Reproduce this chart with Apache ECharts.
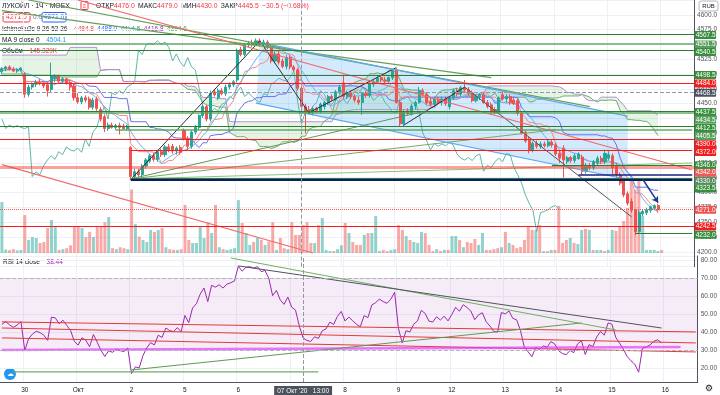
<!DOCTYPE html>
<html>
<head>
<meta charset="utf-8">
<script src="https://cdn.jsdelivr.net/npm/echarts@6/dist/echarts.min.js"></script>
<style>
html,body{margin:0;padding:0;background:#ffffff;}
#chart{width:720px;height:395px;}
</style>
</head>
<body>
<div id="chart"></div>
<script>
// ---------------- values ----------------
const dayNames = ["29 Сен '20","30 Сен '20","01 Окт '20","02 Окт '20","05 Окт '20","06 Окт '20","07 Окт '20","08 Окт '20","09 Окт '20","12 Окт '20","13 Окт '20","14 Окт '20","15 Окт '20","16 Окт '20"];
const dayTickLabels = ['29','30','Окт','2','5','6','7','8','9','12','13','14','15','16'];
const sessionHours = ['10:00','11:00','12:00','13:00','14:00','15:00','16:00','17:00','18:00','19:00','20:00','21:00','22:00','23:00'];
const firstVisibleHour = 8;   // first day is visible from 18:00
const futureSlots = 9;        // empty slots on the last day

const opens = [
 4504,4509,4512,4508,4505,4507,
 4500,4466,4478,4483,4486,4484,4482,4474,4492,4496,4488,4492,4486,4480,
 4460,4453,4460,4458,4444,4458,4440,4428,4408,4414,4410,4413,4412,4408,
 4376,4327,4335,4330,4345,4353,4362,4356,4369,4364,4377,4378,4370,4376,
 4405,4392,4378,4402,4410,4430,4445,4424,4470,4460,4472,4467,4478,4482,
 4490,4541,4533,4549,4552,4550,4556,4550,4554,4545,4522,4534,4522,4513,
 4528,4512,4507,4476,4445,4440,4435,4442,4438,4445,4452,4462,4458,4470,
 4485,4462,4468,4462,4456,4452,4467,4464,4483,4487,4494,4490,4488,4494,
 4507,4452,4416,4438,4433,4446,4452,4472,4466,4454,4449,4458,4452,4458,
 4445,4460,4472,4466,4477,4473,4468,4455,4462,4465,4452,4448,4440,4435,
 4465,4458,4462,4456,4455,4434,4402,4390,4372,4383,4378,4382,4379,4385,
 4380,4366,4375,4352,4359,4354,4358,4360,4336,4346,4342,4350,4358,4352,
 4358,4362,4345,4330,4320,4298,4285,4270,4234,4264,4266,4270,4274,4278
];
const highs = [
 4512,4514,4515,4512,4510,4512,
 4503,4482,4486,4490,4492,4488,4486,4519,4500,4499,4495,4494,4490,4484,
 4468,4463,4464,4462,4460,4462,4444,4432,4418,4418,4416,4418,4416,4414,
 4378,4340,4340,4348,4358,4365,4367,4372,4374,4380,4382,4382,4378,4380,
 4408,4395,4405,4414,4432,4448,4448,4472,4474,4476,4476,4482,4486,4490,
 4543,4546,4552,4556,4558,4560,4560,4558,4557,4550,4538,4538,4526,4532,
 4532,4515,4510,4479,4450,4446,4445,4445,4452,4455,4465,4466,4473,4482,
 4499,4472,4472,4466,4462,4470,4472,4486,4490,4496,4498,4495,4496,4509,
 4510,4455,4440,4442,4450,4455,4478,4476,4470,4460,4462,4462,4462,4462,
 4462,4475,4476,4480,4490,4478,4472,4466,4468,4468,4456,4452,4444,4462,
 4470,4466,4466,4460,4458,4436,4405,4394,4386,4388,4386,4386,4390,4390,
 4384,4372,4380,4362,4362,4366,4368,4364,4350,4350,4355,4362,4362,4372,
 4370,4366,4350,4334,4324,4302,4290,4272,4270,4272,4274,4278,4280,4281
];
const lows = [
 4500,4505,4506,4503,4502,4504,
 4460,4462,4474,4478,4481,4476,4462,4470,4486,4485,4484,4482,4472,4455,
 4450,4449,4452,4440,4440,4438,4420,4402,4404,4408,4406,4398,4406,4405,
 4321,4320,4326,4326,4340,4350,4352,4352,4360,4360,4368,4366,4364,4364,
 4388,4372,4374,4398,4406,4426,4420,4420,4462,4456,4464,4463,4474,4478,
 4486,4530,4530,4545,4546,4548,4546,4547,4542,4518,4518,4516,4510,4508,
 4508,4504,4472,4430,4400,4432,4430,4434,4434,4440,4448,4454,4455,4466,
 4458,4458,4458,4452,4448,4431,4460,4460,4478,4484,4486,4484,4484,4490,
 4450,4412,4412,4430,4430,4440,4450,4462,4448,4446,4445,4448,4447,4446,
 4440,4456,4462,4462,4470,4464,4452,4452,4456,4450,4442,4432,4432,4432,
 4455,4452,4448,4448,4430,4398,4384,4366,4368,4374,4374,4376,4376,4376,
 4362,4350,4325,4348,4350,4350,4355,4330,4332,4338,4338,4346,4348,4348,
 4354,4330,4325,4312,4292,4278,4266,4228,4232,4260,4262,4266,4270,4268
];
const closes = [
 4509,4512,4508,4505,4507,4510,
 4466,4478,4483,4486,4484,4480,4472,4497,4496,4488,4492,4485,4478,4460,
 4453,4460,4456,4444,4456,4442,4424,4408,4414,4410,4413,4410,4408,4411,
 4327,4335,4330,4345,4355,4362,4356,4369,4364,4377,4372,4370,4375,4368,
 4390,4378,4402,4410,4430,4445,4424,4468,4465,4472,4467,4478,4482,4487,
 4540,4533,4549,4552,4550,4556,4550,4554,4545,4522,4534,4520,4513,4528,
 4512,4507,4476,4445.5,4438,4435,4442,4438,4449,4452,4462,4458,4470,4478,
 4462,4468,4462,4456,4452,4467,4464,4483,4487,4493,4490,4488,4494,4505,
 4452,4416,4436,4433,4446,4452,4472,4466,4451,4449,4458,4452,4458,4450,
 4460,4472,4466,4477,4473,4468,4455,4462,4465,4452,4445,4436,4435,4460,
 4458,4462,4452,4450,4434,4400,4387,4372,4383,4378,4382,4379,4385,4380,
 4365,4358,4355,4359,4354,4362,4365,4336,4346,4342,4352,4358,4352,4366,
 4364,4342,4330,4316,4296,4282,4270,4234,4266,4268,4271,4276,4278,4271
];
const volumesK = [
 265,18,15,20,14,16,
 198,68,83,78,52,57,130,172,135,16,20,25,40,135,
 135,130,83,110,83,135,135,160,187,25,20,30,25,20,
 330,150,85,68,57,120,110,120,130,30,20,16,16,20,
 250,68,52,52,135,78,160,104,250,30,20,16,20,25,
 275,156,104,42,57,78,68,42,60,160,16,78,25,20,
 160,94,94,145.329,160,52,52,145,182,16,10,10,20,40,
 156,104,57,42,42,94,104,104,192,10,16,10,16,20,
 145,120,88,68,57,52,110,104,42,10,20,10,16,16,
 88,88,68,30,57,52,73,42,104,16,16,20,25,30,
 110,52,42,25,31,68,135,120,120,145,10,10,16,16,
 245,52,68,78,52,47,120,125,120,16,16,16,10,16,
 120,115,135,166,234,380,328,374,192,16,16,16,10,16
];
// Ichimoku leading spans on the first 26 visible bars (built from bars before the window)
const leadAStart = [4500,4500,4500,4500,4500,4500,4500,4500,4498,4498,4498,4498,4498,4498,4495,4495,4495,4495,4495,4495,4495,4495,4495,4495,4495,4495];
const leadBStart = [4532,4532,4532,4532,4532,4532,4532,4532,4532,4532,4532,4532,4532,4532,4532,4532,4532,4532,4545,4545,4545,4545,4545,4545,4545,4545];
// RSI average gain / loss carried in from bars before the window
const rsiPriorGain = 3.4, rsiPriorLoss = 4.3;

// horizontal levels (price, first bar index)
const levelPrices   = [4567.5,4551.5,4540.5,4498.5,4484.0,4437.5,4434.5,4412.5,4405.5,4390.0,4372.0,4346.0,4342.0,4330.0,4323.5,4321.0,4271.0,4242.5,4232.0];
const levelStartIdx = [0,0,0,0,0,0,0,0,30,0,34,145,0,152,34,34,0,0,167];
const levelTagged   = [1,1,1,1,1,1,1,1,1,1,1,1,1,1,1,0,1,1,1];
const crosshairPrice = 4468.5;
const crosshairTime = "07 Окт '20  13:00";

// drawn trend lines: [bar index, price] end points
const trendLines = [
 [[34,4322],[68,4556]],
 [[68,4556],[81,4434]],
 [[81,4435],[104,4511]],
 [[106,4414],[122,4478]],
 [[122,4478],[166,4259]],
 [[0,4607],[129,4494]],
 [[7,4625],[155,4445]],
 [[34,4323],[112,4438]],
 [[34,4323],[146,4406]],
 [[34,4323],[182,4350]],
 [[0,4347],[82,4198]],
 [[20,4625],[182,4338]],
 [[68,4553],[165,4429]],
 [[67,4451],[165,4322]]
];
const channelTop = [[68,4553],[165,4429]];
const channelBottom = [[67,4451],[165,4322]];
const arrowLine = [[169,4322],[173,4283]];

// RSI pane drawn lines: [bar index, RSI]
const rsiLines = [
 [[0,45.6],[182,40.0]],
 [[0,42.2],[182,33.9]],
 [[0,36.7],[182,28.9]],
 [[0,30.0],[178,31.7]],
 [[34,18.9],[152,45.0]],
 [[60,81.1],[161,41.1]],
 [[62,76.7],[173,42.2]],
 [[3,17.8],[83,17.8]]
];

// legend texts
const symbolTitle = 'ЛУКОЙЛ · 1Ч · MOEX';
const ichimokuTitle = 'Ichimoku2c 9 26 52 26';
const ichimokuValues = ['4484.8','4488.0','4414.5','4416.8','4394.6'];
const maTitle = 'MA 9 close 0';
const maValue = '4504.1';
const volTitle = 'Объём';
const volValue = '145.329K';
const rsiTitle = 'RSI 14 close';
const rsiValue = '38.44';
const lastPrice = '4271.0';

// ---------------- styles (kept apart from values) ----------------
const FONT = '"Liberation Sans", Arial, sans-serif';
const UP = '#26a69a', DOWN = '#ef5350';
const levelKinds = ['g','gl','g','g','r','g','gl','g','gl','r','r','g','pink','navy','g','navyThick','price','r','g'];
const kindStyle = {
  g:{color:'#2e7d32',width:1.2,type:'solid'},
  gl:{color:'rgba(76,160,80,0.65)',width:2,type:'solid'},
  r:{color:'#ff1a1a',width:1.2,type:'solid'},
  pink:{color:'rgba(244,67,54,0.5)',width:3,type:'solid'},
  navy:{color:'#1a237e',width:1.5,type:'solid'},
  navyThick:{color:'#0d1b6e',width:2,type:'solid'},
  price:{color:'#ef5350',width:1,type:'dotted'}
};
const kindTag = {g:'#388e3c',gl:'#5a9e5e',r:'#f41d1d',pink:'#ef5b5b',navy:'#5b8a60',navyThick:'#1a237e',price:'#ef5350'};
const tagShiftPx = [1,1,2,0,0,1,7,2,6,5,2,0,5,6,10,0,0,0,2];
const trendStyles = [
 {c:'#2a2e39',w:1},{c:'#2a2e39',w:1},{c:'#2a2e39',w:1},{c:'#2a2e39',w:1},{c:'#50535e',w:1},
 {c:'#6a9e5a',w:1.2},{c:'#6a9e5a',w:1.2},
 {c:'#5f9a52',w:1},{c:'#7aa86a',w:1},{c:'#8fbf7f',w:1},
 {c:'#f26b6b',w:1.2},{c:'#f26b6b',w:1.2},
 {c:'#5aa9ee',w:1.2},{c:'#5aa9ee',w:1.2}
];
const rsiLineStyles = [
 {c:'#e53935',w:1},{c:'#e53935',w:1},{c:'#e53935',w:1},{c:'rgba(224,64,251,0.7)',w:2.5},
 {c:'#5f9a52',w:1},{c:'#6fb05f',w:1},{c:'#50535e',w:1},{c:'#6fb05f',w:1.2}
];

// ---------------- build categories ----------------
const categories = [];
const dayStartLabel = {};
dayNames.forEach((d, k) => {
  const from = k === 0 ? firstVisibleHour : 0;
  const to = k === dayNames.length - 1 ? futureSlots : sessionHours.length;
  for (let j = from; j < to; j++) {
    if (j === 0) dayStartLabel[categories.length] = dayTickLabels[k];
    categories.push(d + '  ' + sessionHours[j]);
  }
});
const lastCat = categories.length - 1;
const N = closes.length;
const crossIdx = categories.indexOf(crosshairTime);

// ---------------- indicators derived from the candles ----------------
function midHL(i, len) {
  let h = -Infinity, l = Infinity;
  for (let k = Math.max(0, i - len + 1); k <= i; k++) { h = Math.max(h, highs[k]); l = Math.min(l, lows[k]); }
  return (h + l) / 2;
}
const tenkan = [], kijun = [], ma9 = [], chikou = [], spanA = [], spanB = [], rsi = [];
for (let i = 0; i < N; i++) {
  tenkan.push(midHL(i, 9));
  kijun.push(midHL(i, 26));
  let s = 0, c = 0;
  for (let k = Math.max(0, i - 8); k <= i; k++) { s += closes[k]; c++; }
  ma9.push(s / c);
}
for (let i = 0; i < N; i++) {
  chikou.push(i + 26 < N ? closes[i + 26] : null);
  spanA.push(i >= 26 ? (tenkan[i - 26] + kijun[i - 26]) / 2 : leadAStart[i]);
  spanB.push(i >= 26 ? midHL(i - 26, 52) : leadBStart[i]);
}
let ag = rsiPriorGain, al = rsiPriorLoss;
for (let i = 0; i < N; i++) {
  if (i > 0) {
    const ch = closes[i] - closes[i - 1];
    ag = (ag * 13 + Math.max(ch, 0)) / 14;
    al = (al * 13 + Math.max(-ch, 0)) / 14;
  }
  rsi.push(100 - 100 / (1 + ag / al));
}

const candleData = opens.map((o, i) => [o, closes[i], lows[i], highs[i]]);
const volData = volumesK.map((v, i) => ({value: v, itemStyle: {color: closes[i] >= opens[i] ? 'rgba(38,166,154,0.5)' : 'rgba(239,83,80,0.5)'}}));

// ---------------- axes ----------------
const isDayStart = (idx) => dayStartLabel[idx] !== undefined;
function catAxis(gridIndex, showLabels) {
  return {
    type: 'category', data: categories, gridIndex, boundaryGap: true,
    axisLine: {show: showLabels, lineStyle: {color: '#50535e', width: 1}},
    axisTick: {show: false},
    axisLabel: {show: showLabels, interval: (idx) => isDayStart(idx), formatter: (v, idx) => dayStartLabel[idx] || '',
      fontSize: 6.5, color: '#131722', fontFamily: FONT, margin: 5},
    splitLine: {show: gridIndex !== 1, interval: (idx) => isDayStart(idx), lineStyle: {color: '#eef0f5', width: 1}}
  };
}

// ---------------- series ----------------
const series = [];

// Ichimoku cloud fill
series.push({
  type: 'custom', xAxisIndex: 0, yAxisIndex: 0, data: [0], silent: true, z: 1, animation: false,
  renderItem: (params, api) => {
    const up = [], dn = [];
    for (let i = 0; i < N; i++) {
      if (spanA[i] == null || spanB[i] == null) continue;
      up.push(api.coord([i, spanA[i]]));
      dn.push(api.coord([i, spanB[i]]));
    }
    return {type: 'polygon', shape: {points: up.concat(dn.reverse())}, style: {fill: 'rgba(76,175,80,0.14)'}};
  }
});
// blue channel fill
series.push({
  type: 'custom', xAxisIndex: 0, yAxisIndex: 0, data: [0], silent: true, z: 1, animation: false,
  renderItem: (params, api) => {
    const pts = [api.coord(channelTop[0]), api.coord(channelTop[1]), api.coord(channelBottom[1]), api.coord(channelBottom[0])];
    return {type: 'polygon', shape: {points: pts}, style: {fill: 'rgba(33,150,243,0.2)'}};
  }
});

// Ichimoku lines + MA
const lineDefs = [
  {d: spanA, c: '#6fae6f', w: 1}, {d: spanB, c: '#b38fd0', w: 1},
  {d: chikou, c: '#5fb8a8', w: 1}, {d: kijun, c: '#6a6ff0', w: 1},
  {d: tenkan, c: '#f28b8b', w: 1}, {d: ma9, c: '#64b5f6', w: 1}
];
lineDefs.forEach(ld => series.push({
  type: 'line', xAxisIndex: 0, yAxisIndex: 0, data: ld.d, showSymbol: false, symbol: 'none',
  lineStyle: {color: ld.c, width: ld.w}, silent: true, z: 2, animation: false, connectNulls: false
}));

// candles with horizontal levels and crosshair
const levelMarks = [];
levelPrices.forEach((p, k) => {
  const st = kindStyle[levelKinds[k]];
  const ls = {color: st.color, width: st.width, type: st.type};
  if (levelStartIdx[k] === 0) levelMarks.push({yAxis: p, lineStyle: ls});
  else levelMarks.push([{coord: [categories[levelStartIdx[k]], p], lineStyle: ls}, {coord: [categories[lastCat], p]}]);
});
levelMarks.push({yAxis: crosshairPrice, lineStyle: {color: '#9598a1', width: 1, type: 'dashed'}});
levelMarks.push({xAxis: categories[crossIdx], lineStyle: {color: '#9598a1', width: 1, type: 'dashed'}});
levelMarks.push([{coord: [categories[arrowLine[0][0]], arrowLine[0][1]], lineStyle: {color: '#1a3d8f', width: 1.5, type: 'solid'}},
                 {coord: [categories[arrowLine[1][0]], arrowLine[1][1]], symbol: 'arrow'}]);

series.push({
  type: 'candlestick', xAxisIndex: 0, yAxisIndex: 0, data: candleData, barWidth: '68%', z: 3, animation: false,
  itemStyle: {color: UP, color0: DOWN, borderColor: UP, borderColor0: DOWN, borderWidth: 1},
  markLine: {silent: true, symbol: ['none', 'none'], symbolSize: 6, label: {show: false}, animation: false, z: 5, data: levelMarks}
});

// trend lines
trendLines.forEach((tl, k) => series.push({
  type: 'line', xAxisIndex: 0, yAxisIndex: 0, data: tl, showSymbol: false, symbol: 'none', silent: true, z: 4,
  lineStyle: {color: trendStyles[k].c, width: trendStyles[k].w}, animation: false
}));

// price tags on the right axis
const tagItems = [];
levelPrices.forEach((p, k) => { if (levelTagged[k]) tagItems.push({p, color: kindTag[levelKinds[k]], shift: tagShiftPx[k]}); });
tagItems.push({p: crosshairPrice, color: '#4c525e', shift: 0});
series.push({
  type: 'custom', xAxisIndex: 0, yAxisIndex: 0, data: tagItems.map((t, i) => i), silent: true, clip: false, z: 20, animation: false,
  renderItem: (params, api) => {
    const t = tagItems[params.dataIndex];
    const cs = params.coordSys;
    const y = api.coord([0, t.p])[1] + t.shift;
    const x0 = cs.x + cs.width + 0.5;
    return {type: 'group', children: [
      {type: 'rect', shape: {x: x0, y: y - 4, width: 21.5, height: 8, r: 1}, style: {fill: t.color}},
      {type: 'text', x: x0 + 11, y: y, style: {text: t.p.toFixed(1), fill: '#ffffff', font: '6.5px ' + FONT, textAlign: 'center', textVerticalAlign: 'middle'}}
    ]};
  }
});

// volume
series.push({type: 'bar', xAxisIndex: 1, yAxisIndex: 1, data: volData, barWidth: '78%', silent: true, z: 2, animation: false});

// RSI
series.push({
  type: 'line', xAxisIndex: 2, yAxisIndex: 2, data: rsi, showSymbol: false, symbol: 'none', z: 3, animation: false,
  lineStyle: {color: '#9c27b0', width: 1},
  markArea: {silent: true, itemStyle: {color: 'rgba(156,39,176,0.09)'}, data: [[{yAxis: 30}, {yAxis: 70}]]},
  markLine: {silent: true, symbol: ['none', 'none'], animation: false, data: [
    {yAxis: 70, lineStyle: {color: '#b2b5be', type: 'dashed', width: 1}, label: {show: false}},
    {yAxis: 30, lineStyle: {color: '#b2b5be', type: 'dashed', width: 1}, label: {show: false}},
    {xAxis: categories[crossIdx], lineStyle: {color: '#9598a1', type: 'dashed', width: 1},
     label: {show: true, position: 'start', formatter: () => crosshairTime.replace("'20  ", "'20   "),
       backgroundColor: '#4c525e', color: '#ffffff', fontSize: 6.5, fontFamily: FONT, padding: [2, 3], distance: 4}}
  ]}
});
rsiLines.forEach((tl, k) => series.push({
  type: 'line', xAxisIndex: 2, yAxisIndex: 2, data: tl, showSymbol: false, symbol: 'none', silent: true, z: 4,
  lineStyle: {color: rsiLineStyles[k].c, width: rsiLineStyles[k].w}, animation: false
}));

// ---------------- legend graphics ----------------
const lf = (s) => s + 'px ' + FONT;
const graphic = [
  {type: 'text', x: 2, y: 6, style: {text: symbolTitle, font: lf(6.8), fill: '#131722', textVerticalAlign: 'middle'}},
  {type: 'rect', shape: {x: 81, y: 1.5, width: 7, height: 8, r: 1}, style: {fill: '#fff', stroke: '#f23645', lineWidth: 1}},
  {type: 'text', x: 84.5, y: 6, style: {text: '≡', font: lf(6), fill: '#f23645', textAlign: 'center', textVerticalAlign: 'middle'}},
  {type: 'text', x: 96, y: 6, style: {
    text: '{l|ОТКР}{v|' + opens[crossIdx].toFixed(1) + '} {l|МАКС}{v|' + highs[crossIdx].toFixed(1) + '} {l|МИН}{v|' + lows[crossIdx].toFixed(1) +
          '} {l|ЗАКР}{v|' + closes[crossIdx].toFixed(1) + '} {v|−' + (closes[crossIdx - 1] - closes[crossIdx]).toFixed(1) + ' (−' + ((closes[crossIdx - 1] - closes[crossIdx]) / closes[crossIdx - 1] * 100).toFixed(2) + '%)}',
    rich: {l: {fill: '#131722', font: lf(6.8)}, v: {fill: '#f23645', font: lf(6.8)}}, textVerticalAlign: 'middle'}},
  {type: 'rect', shape: {x: 3, y: 12.5, width: 27, height: 9.5, r: 1.5}, style: {fill: '#fff', stroke: '#f23645', lineWidth: 1}},
  {type: 'text', x: 16.5, y: 17.3, style: {text: lastPrice, font: lf(6.8), fill: '#f23645', textAlign: 'center', textVerticalAlign: 'middle'}},
  {type: 'text', x: 33, y: 17.3, style: {text: '0.0', font: lf(6.5), fill: '#787b86', textVerticalAlign: 'middle'}},
  {type: 'rect', shape: {x: 42, y: 12.5, width: 24, height: 9.5, r: 1.5}, style: {fill: '#fff', stroke: '#2962ff', lineWidth: 1}},
  {type: 'text', x: 54, y: 17.3, style: {text: lastPrice, font: lf(6.8), fill: '#2962ff', textAlign: 'center', textVerticalAlign: 'middle'}},
  {type: 'text', x: 2, y: 29, style: {
    text: '{l|' + ichimokuTitle + '}  {a|' + ichimokuValues[0] + '} {b|' + ichimokuValues[1] + '} {c|' + ichimokuValues[2] + '} {d|' + ichimokuValues[3] + '} {e|' + ichimokuValues[4] + '}',
    rich: {l: {fill: '#131722', font: lf(6.5)}, a: {fill: '#f23645', font: lf(6.5)}, b: {fill: '#2962ff', font: lf(6.5)}, c: {fill: '#26a69a', font: lf(6.5)}, d: {fill: '#9c27b0', font: lf(6.5)}, e: {fill: '#43a047', font: lf(6.5)}},
    textVerticalAlign: 'middle'}},
  {type: 'text', x: 2, y: 40, style: {text: '{l|' + maTitle + '}  {v|' + maValue + '}', rich: {l: {fill: '#131722', font: lf(6.5)}, v: {fill: '#2196f3', font: lf(6.5)}}, textVerticalAlign: 'middle'}},
  {type: 'text', x: 2, y: 51, style: {text: '{l|' + volTitle + '}  {v|' + volValue + '}', rich: {l: {fill: '#131722', font: lf(6.5)}, v: {fill: '#f23645', font: lf(6.5)}}, textVerticalAlign: 'middle'}},
  {type: 'text', x: 3, y: 262, style: {text: '{l|' + rsiTitle + '}  {v|' + rsiValue + '}', rich: {l: {fill: '#131722', font: lf(6.5)}, v: {fill: '#9c27b0', font: lf(6.5)}}, textVerticalAlign: 'middle'}},
  {type: 'line', shape: {x1: 0, y1: 256.5, x2: 698, y2: 256.5}, style: {stroke: '#d1d4dc', lineWidth: 1}},
  {type: 'rect', shape: {x: 699, y: 1, width: 19, height: 10, r: 2}, style: {fill: '#fff', stroke: '#b2b5be', lineWidth: 1}},
  {type: 'text', x: 708.5, y: 6, style: {text: 'RUB', font: lf(6), fill: '#131722', textAlign: 'center', textVerticalAlign: 'middle'}},
  {type: 'circle', shape: {cx: 10, cy: 374, r: 6}, style: {fill: '#2196f3'}},
  {type: 'text', x: 10, y: 374, style: {text: '☁', font: lf(7), fill: '#ffffff', textAlign: 'center', textVerticalAlign: 'middle'}},
  {type: 'text', x: 709, y: 389, style: {text: '⚙', font: '9px "DejaVu Sans"', fill: '#131722', textAlign: 'center', textVerticalAlign: 'middle'}}
];

const option = {
  animation: false,
  backgroundColor: '#ffffff',
  grid: [
    {left: 0, right: 22, top: 0, height: 266.6},
    {left: 0, right: 22, top: 153, height: 100},
    {left: 0, right: 22, top: 256, height: 126}
  ],
  xAxis: [catAxis(0, false), catAxis(1, false), catAxis(2, true)],
  yAxis: [
    {type: 'value', gridIndex: 0, position: 'right', min: 4175, max: 4625, interval: 25, scale: true,
     axisLine: {show: true, lineStyle: {color: '#50535e'}}, axisTick: {show: false},
     axisLabel: {fontSize: 6.5, color: '#50535e', fontFamily: FONT, margin: 3, showMinLabel: false, showMaxLabel: false, formatter: (v) => v.toFixed(1)},
     splitLine: {show: true, lineStyle: {color: '#eef0f5'}}},
    {type: 'value', gridIndex: 1, min: 0, max: 520, show: false, splitLine: {show: false}},
    {type: 'value', gridIndex: 2, position: 'right', min: 12.2, max: 82.2, splitNumber: 7,
     axisLine: {show: true, lineStyle: {color: '#50535e'}}, axisTick: {show: false},
     axisLabel: {fontSize: 6.5, color: '#50535e', fontFamily: FONT, margin: 3, showMinLabel: false, showMaxLabel: false, formatter: (v) => v.toFixed(2)},
     splitLine: {show: true, lineStyle: {color: '#eef0f5'}}}
  ],
  series: series,
  graphic: graphic
};

const chart = echarts.init(document.getElementById('chart'), null, {renderer: 'canvas'});
chart.setOption(option);
</script>
</body>
</html>
